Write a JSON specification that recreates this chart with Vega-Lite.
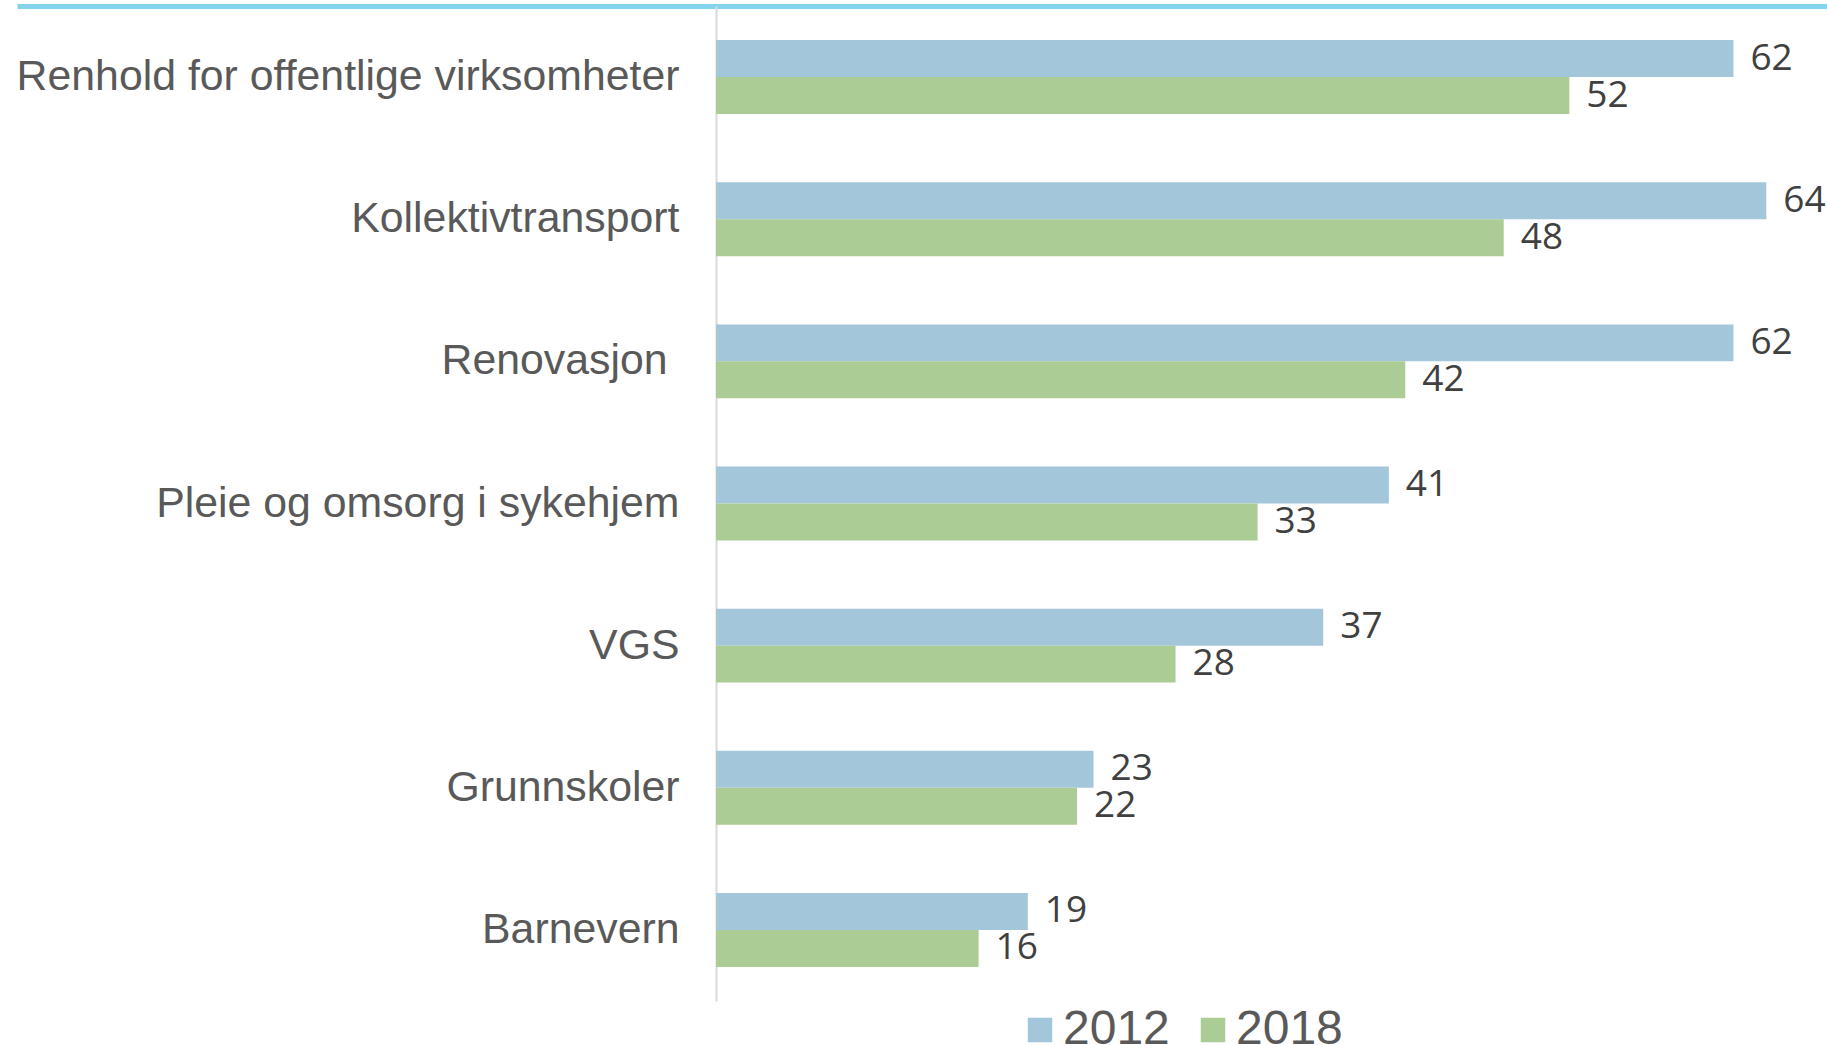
{
  "$schema": "https://vega.github.io/schema/vega-lite/v6.json",
  "autosize": {"type": "none"},
  "padding": {"left": 17, "top": 6, "right": 0, "bottom": 44},
  "width": 1810,
  "height": 995,
  "background": "white",
  "config": {"view": {"stroke": null}},
  "data": {
    "values": [
      {"kategori": "Renhold for offentlige virksomheter", "aar": "2012", "verdi": 62},
      {"kategori": "Renhold for offentlige virksomheter", "aar": "2018", "verdi": 52},
      {"kategori": "Kollektivtransport", "aar": "2012", "verdi": 64},
      {"kategori": "Kollektivtransport", "aar": "2018", "verdi": 48},
      {"kategori": "Renovasjon ", "aar": "2012", "verdi": 62},
      {"kategori": "Renovasjon ", "aar": "2018", "verdi": 42},
      {"kategori": "Pleie og omsorg i sykehjem", "aar": "2012", "verdi": 41},
      {"kategori": "Pleie og omsorg i sykehjem", "aar": "2018", "verdi": 33},
      {"kategori": "VGS", "aar": "2012", "verdi": 37},
      {"kategori": "VGS", "aar": "2018", "verdi": 28},
      {"kategori": "Grunnskoler", "aar": "2012", "verdi": 23},
      {"kategori": "Grunnskoler", "aar": "2018", "verdi": 22},
      {"kategori": "Barnevern", "aar": "2012", "verdi": 19},
      {"kategori": "Barnevern", "aar": "2018", "verdi": 16}
    ]
  },
  "encoding": {
    "y": {
      "field": "kategori",
      "type": "nominal",
      "sort": null,
      "scale": {"paddingInner": 0.48, "paddingOuter": 0.24},
      "axis": {
        "title": null,
        "orient": "left",
        "offset": -699,
        "ticks": false,
        "domain": true,
        "domainColor": "#D9D9D9",
        "domainWidth": 2,
        "labelPadding": {"condition": {"test": "datum.value === 'Renovasjon '", "value": 49}, "value": 37},
        "labelFont": "Liberation Sans",
        "labelFontSize": 42.8,
        "labelColor": "#595959",
        "labelLimit": 0
      }
    },
    "yOffset": {"field": "aar", "type": "nominal", "scale": {"paddingInner": 0, "paddingOuter": 0}},
    "x": {
      "field": "verdi",
      "type": "quantitative",
      "scale": {"domain": [-42.6, 67.7], "nice": false, "zero": false},
      "axis": {
        "orient": "top",
        "title": null,
        "labels": false,
        "ticks": false,
        "grid": false,
        "domain": true,
        "domainColor": "#84D3EC",
        "domainWidth": 5
      }
    }
  },
  "layer": [
    {
      "mark": {"type": "bar"},
      "encoding": {
        "x2": {"datum": 0},
        "color": {
          "field": "aar",
          "type": "nominal",
          "scale": {"domain": ["2012", "2018"], "range": ["#A3C6DA", "#ABCD95"]},
          "legend": {
            "title": null,
            "orient": "none",
            "legendX": 999,
            "legendY": 1000,
            "direction": "horizontal",
            "symbolType": "square",
            "symbolSize": 600,
            "symbolStrokeWidth": 0,
            "labelFont": "Liberation Sans",
            "labelFontSize": 48,
            "labelColor": "#595959",
            "labelOffset": -1,
            "columnPadding": 19,
            "padding": 0
          }
        }
      }
    },
    {
      "mark": {"type": "text", "align": "left", "baseline": "middle", "dx": 17, "font": "Open Sans", "fontSize": 37, "color": "#404040"},
      "encoding": {
        "text": {"field": "verdi", "type": "quantitative"}
      }
    }
  ]
}
